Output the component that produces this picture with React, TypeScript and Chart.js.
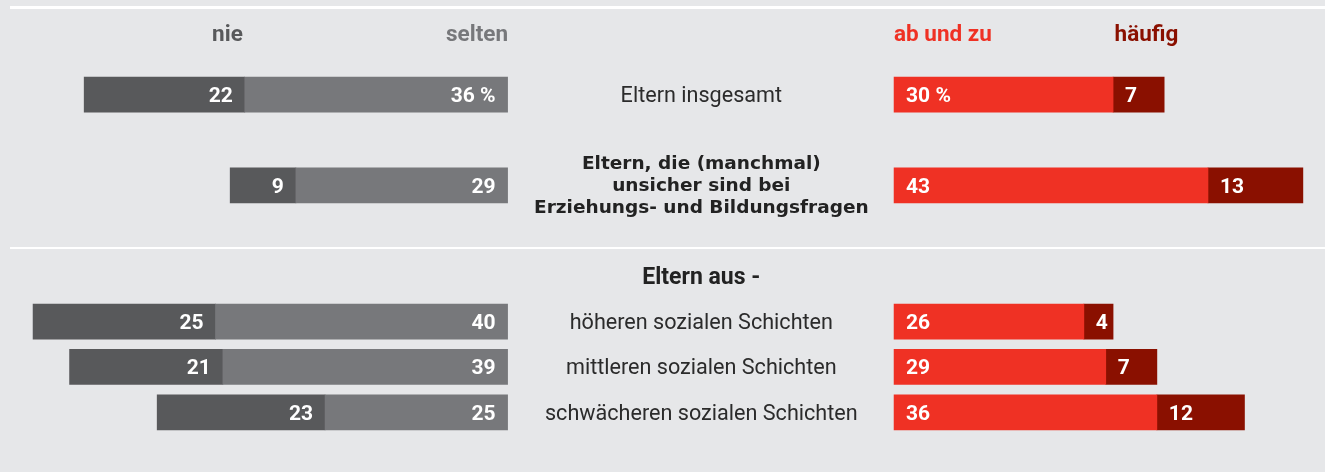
import React, { useEffect, useRef } from "react";
import { Chart, registerables } from "chart.js";

Chart.register(...registerables);

// ---- data ----
const categories: string[][] = [
  ["Eltern insgesamt"],
  [],
  ["Eltern, die (manchmal)", "unsicher sind bei", "Erziehungs- und Bildungsfragen"],
  [],
  ["Eltern aus -"],
  ["höheren sozialen Schichten"],
  ["mittleren sozialen Schichten"],
  ["schwächeren sozialen Schichten"],
];
const boldRows = [false, false, true, false, true, false, false, false];

const nie: (number | null)[] = [22, null, 9, null, null, 25, 21, 23];
const selten: (number | null)[] = [36, null, 29, null, null, 40, 39, 25];
const abUndZu: (number | null)[] = [30, null, 43, null, null, 26, 29, 36];
const haeufig: (number | null)[] = [7, null, 13, null, null, 4, 7, 12];

const seriesNames = ["nie", "selten", "ab und zu", "häufig"];

// ---- layout / style ----
const W = 1325;
const H = 472;
const GAP = 26.47; // empty space (in value units) on each side of the centre labels
const BG = "#e6e7e9";
const C_NIE = "#58595b";
const C_SELTEN = "#77787b";
const C_ABUNDZU = "#ef3124";
const C_HAEUFIG = "#8a1000";

const gapData = nie.map((v) => (v == null ? null : GAP));

const decoPlugin = {
  id: "deco",
  beforeDraw(chart: any) {
    const { ctx, width, height } = chart;
    const ys = chart.scales.y;
    ctx.save();
    ctx.fillStyle = BG;
    ctx.fillRect(0, 0, width, height);
    ctx.fillStyle = "#ffffff";
    ctx.fillRect(10, 6, width - 10, 3);
    const sepY = Math.round(ys.getPixelForValue(3.38));
    ctx.fillRect(10, sepY - 1, width - 10, 2);
    ctx.restore();
  },
  afterDatasetsDraw(chart: any) {
    const { ctx } = chart;
    const xs = chart.scales.x;
    const ys = chart.scales.y;
    ctx.save();

    // column headers
    const headBase = ys.getPixelForValue(0) - 53.5;
    ctx.font = "bold 22.5px Roboto";
    ctx.textBaseline = "alphabetic";
    ctx.textAlign = "right";
    ctx.fillStyle = C_NIE;
    ctx.fillText(seriesNames[0], xs.getPixelForValue(-(GAP + (selten[0] as number))) - 2, headBase);
    ctx.fillStyle = C_SELTEN;
    ctx.fillText(seriesNames[1], xs.getPixelForValue(-GAP) + 0.5, headBase);
    ctx.textAlign = "left";
    ctx.fillStyle = C_ABUNDZU;
    ctx.fillText(seriesNames[2], xs.getPixelForValue(GAP), headBase);
    ctx.fillStyle = C_HAEUFIG;
    ctx.fillText(seriesNames[3], xs.getPixelForValue(GAP + (abUndZu[0] as number)) + 1.5, headBase);

    // centre labels
    const cx = xs.getPixelForValue(0) + 0.5;
    ctx.textAlign = "center";
    categories.forEach((lines, i) => {
      if (!lines.length) return;
      const yc = ys.getPixelForValue(i);
      if (lines.length > 1) {
        ctx.font = "bold 18.5px 'DejaVu Sans'";
        ctx.fillStyle = "#222222";
        lines.forEach((ln, k) => {
          ctx.fillText(ln, cx, yc + 5.5 + (k - (lines.length - 1) / 2) * 22);
        });
      } else if (boldRows[i]) {
        ctx.font = "bold 23px Roboto";
        ctx.fillStyle = "#222222";
        ctx.fillText(lines[0], cx, yc + 7.5);
      } else {
        ctx.font = "21.6px Roboto";
        ctx.fillStyle = "#2b2b2b";
        ctx.fillText(lines[0], cx, yc + 7.5);
      }
    });

    // value labels
    ctx.font = "bold 21px Roboto";
    ctx.fillStyle = "#ffffff";
    chart.data.datasets.forEach((ds: any, di: number) => {
      if (ds.isGap) return;
      const meta = chart.getDatasetMeta(di);
      meta.data.forEach((el: any, j: number) => {
        const raw = ds.rawValues[j];
        if (raw == null) return;
        const txt = String(raw) + (ds.pct && j === 0 ? " %" : "");
        const lo = Math.min(el.x, el.base);
        const hi = Math.max(el.x, el.base);
        if (ds.side === "left") {
          ctx.textAlign = "right";
          ctx.fillText(txt, hi - 12, el.y + 7.5);
        } else {
          ctx.textAlign = "left";
          ctx.fillText(txt, lo + 12, el.y + 7.5);
        }
      });
    });
    ctx.restore();
  },
};

export default function App() {
  const ref = useRef<HTMLCanvasElement | null>(null);
  useEffect(() => {
    if (!ref.current) return;
    const neg = (a: (number | null)[]) => a.map((v) => (v == null ? null : -v));
    const common = { barThickness: 35, borderWidth: 0, borderSkipped: false };
    const chart = new Chart(ref.current, {
      type: "bar",
      data: {
        labels: categories,
        datasets: [
          { ...common, label: "gapL", data: neg(gapData), backgroundColor: "rgba(0,0,0,0)", isGap: true },
          { ...common, label: "gapR", data: gapData, backgroundColor: "rgba(0,0,0,0)", isGap: true },
          { ...common, label: seriesNames[1], data: neg(selten), rawValues: selten, backgroundColor: C_SELTEN, side: "left", pct: true },
          { ...common, label: seriesNames[2], data: abUndZu, rawValues: abUndZu, backgroundColor: C_ABUNDZU, side: "right", pct: true },
          { ...common, label: seriesNames[0], data: neg(nie), rawValues: nie, backgroundColor: C_NIE, side: "left", pct: false },
          { ...common, label: seriesNames[3], data: haeufig, rawValues: haeufig, backgroundColor: C_HAEUFIG, side: "right", pct: false },
        ] as any,
      },
      options: {
        indexAxis: "y",
        animation: false,
        responsive: false,
        maintainAspectRatio: false,
        layout: { padding: { top: 72, bottom: 37, left: 0, right: 0 } },
        plugins: { legend: { display: false }, tooltip: { enabled: false } },
        scales: {
          x: { type: "linear", min: -96, max: 85.5, stacked: true, display: false },
          y: { type: "category", stacked: true, display: false, offset: true },
        },
      },
      plugins: [decoPlugin],
    });
    return () => chart.destroy();
  }, []);
  return (
    <div style={{ position: "fixed", left: 0, top: 0, width: W, height: H, background: BG }}>
      <canvas ref={ref} width={W} height={H} style={{ display: "block", width: W, height: H }} />
    </div>
  );
}
